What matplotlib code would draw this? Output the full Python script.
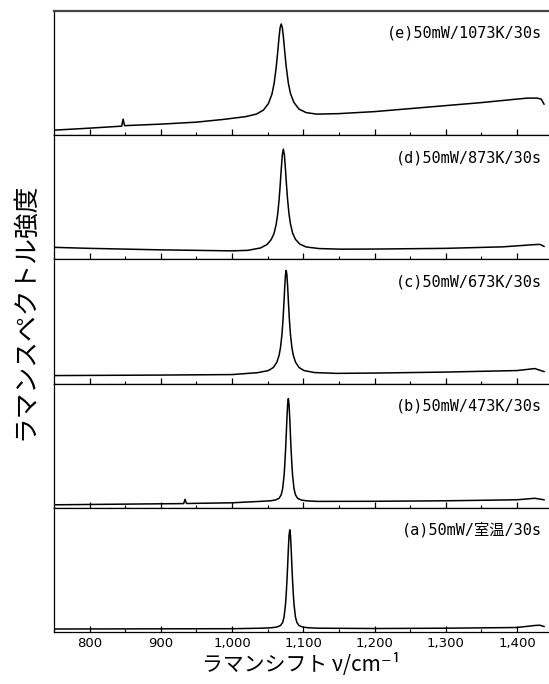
import matplotlib.pyplot as plt
from matplotlib.ticker import MultipleLocator, FuncFormatter

plt.rcParams['font.family'] = ['DejaVu Sans', 'Noto Sans CJK JP']
jp_font = ['Noto Sans CJK JP', 'DejaVu Sans']
mono_font = ['DejaVu Sans Mono', 'Noto Sans CJK JP']

# Raman spectra, one list pair per condition (shift in cm-1, intensity in arb. units)
shift_e = [750, 800, 845, 847, 849, 900, 950, 989, 1019, 1034, 1044, 1051, 1056, 1059, 1062,
           1064, 1066, 1067.5, 1069, 1070.5, 1072, 1074, 1076, 1079, 1082, 1087, 1094, 1104,
           1119, 1150, 1200, 1250, 1300, 1350, 1400, 1415, 1428, 1434, 1438]
inten_e = [5, 7, 9, 16, 9.5, 11, 13, 15.8, 18.5, 21, 25, 31.5, 41, 51.5, 68,
           82.5, 98, 107.5, 111, 107.5, 98.5, 83, 68.5, 52, 41.5, 32.5, 26, 22.5,
           21, 21.5, 23.5, 26.5, 29.5, 32.5, 36, 37, 37, 36, 31]

shift_d = [750, 800, 900, 1000, 1022, 1040, 1049, 1055, 1059, 1062, 1064, 1066, 1067.5, 1069,
           1070.5, 1072, 1073.5, 1075, 1076.5, 1078, 1080, 1082, 1085, 1089, 1095, 1104, 1122,
           1152, 1200, 1300, 1380, 1420, 1432, 1438]
inten_d = [12, 11, 9.5, 8.5, 9, 11.4, 14.8, 19.8, 26, 35.3, 45, 59.3, 73.5, 89.7,
           104, 110, 104, 89.7, 73.5, 59.3, 45, 35.4, 26.2, 20, 15.3, 12.4, 10.8,
           10.2, 10.3, 11, 12.5, 14.5, 15, 13]

shift_c = [750, 900, 1000, 1036, 1051, 1058, 1063, 1066, 1068, 1070, 1071.5, 1073, 1074, 1075,
           1076, 1077, 1078, 1079, 1080.5, 1082, 1084, 1086, 1089, 1094, 1101, 1116, 1146,
           1200, 1300, 1400, 1425, 1438]
inten_c = [8, 8.5, 9, 10.9, 13, 16.1, 21.5, 28.2, 36, 48.8, 63.5, 83.1, 97.1, 108.5,
           113, 108.5, 97.1, 83.1, 63.5, 48.8, 36, 28.2, 21.5, 16.1, 13, 11, 10.2,
           10.5, 11.5, 13, 15, 12]

shift_b = [750, 900, 932, 934, 936, 1000, 1039, 1054, 1061, 1066, 1069, 1071, 1073, 1074, 1075,
           1076, 1077, 1078, 1079, 1080, 1081, 1082, 1083, 1084, 1085, 1087, 1089, 1092, 1097,
           1104, 1119, 1200, 1300, 1400, 1425, 1438]
inten_b = [3, 4, 4.2, 8.5, 4.3, 5, 6.4, 7, 7.8, 9.5, 13, 19, 32, 43, 56,
           72, 89, 103, 109, 103, 89, 72, 56, 43, 32, 19, 13, 9.5, 7.8,
           7, 6.4, 6.5, 7, 8, 9.5, 8]

shift_a = [750, 1000, 1041, 1056, 1063, 1068, 1071, 1073, 1075, 1076, 1077, 1078, 1079, 1080,
           1081, 1082, 1083, 1084, 1085, 1086, 1087, 1089, 1091, 1094, 1099, 1106, 1121,
           1200, 1300, 1400, 1425, 1432, 1438]
inten_a = [3, 3.3, 3.8, 4.3, 5, 6.5, 9.5, 15, 27.5, 37.5, 50.5, 65.5, 82.5, 96.5,
           102, 96.5, 82.5, 65.5, 50.5, 37.5, 27.5, 15, 9.5, 6.5, 5, 4.3, 3.8,
           3.5, 3.8, 4.5, 6.5, 6.8, 5.5]

labels = ['(e)50mW/1073K/30s', '(d)50mW/873K/30s', '(c)50mW/673K/30s',
          '(b)50mW/473K/30s', '(a)50mW/室温/30s']
spectra = [(shift_e, inten_e), (shift_d, inten_d), (shift_c, inten_c),
           (shift_b, inten_b), (shift_a, inten_a)]

fig, axes = plt.subplots(5, 1, sharex=True, figsize=(5.49, 6.84), dpi=100)
fig.subplots_adjust(left=0.0984, right=1.0, top=0.984, bottom=0.076, hspace=0)

for ax, (x, y), lab in zip(axes, spectra, labels):
    ax.plot(x, y, color='black', linewidth=1.1)
    ax.set_xlim(750, 1445)
    ax.set_ylim(0, 124)
    ax.set_yticks([])
    ax.spines['right'].set_visible(False)
    for s in ['left', 'bottom', 'top']:
        ax.spines[s].set_linewidth(0.9)
    ax.xaxis.set_major_locator(MultipleLocator(100))
    ax.xaxis.set_minor_locator(MultipleLocator(50))
    ax.tick_params(axis='x', which='major', direction='in', length=4, width=0.9, labelsize=9.5)
    ax.tick_params(axis='x', which='minor', direction='in', length=2, width=0.8)
    ax.text(0.986, 0.82, lab, transform=ax.transAxes, ha='right', va='center',
            fontsize=11, family=mono_font)

axes[0].spines['top'].set_linewidth(1.6)
axes[0].spines['top'].set_color('#444444')

axes[-1].xaxis.set_major_formatter(FuncFormatter(lambda v, p: f'{int(v):,}'))
axes[-1].set_xlabel('ラマンシフト ν/cm⁻¹', fontsize=15, labelpad=2, family=jp_font)
fig.text(0.045, 0.545, 'ラマンスペクトル強度', rotation=90, ha='center', va='center',
         fontsize=18.5, family=jp_font)

plt.savefig('out.png', dpi=100)
